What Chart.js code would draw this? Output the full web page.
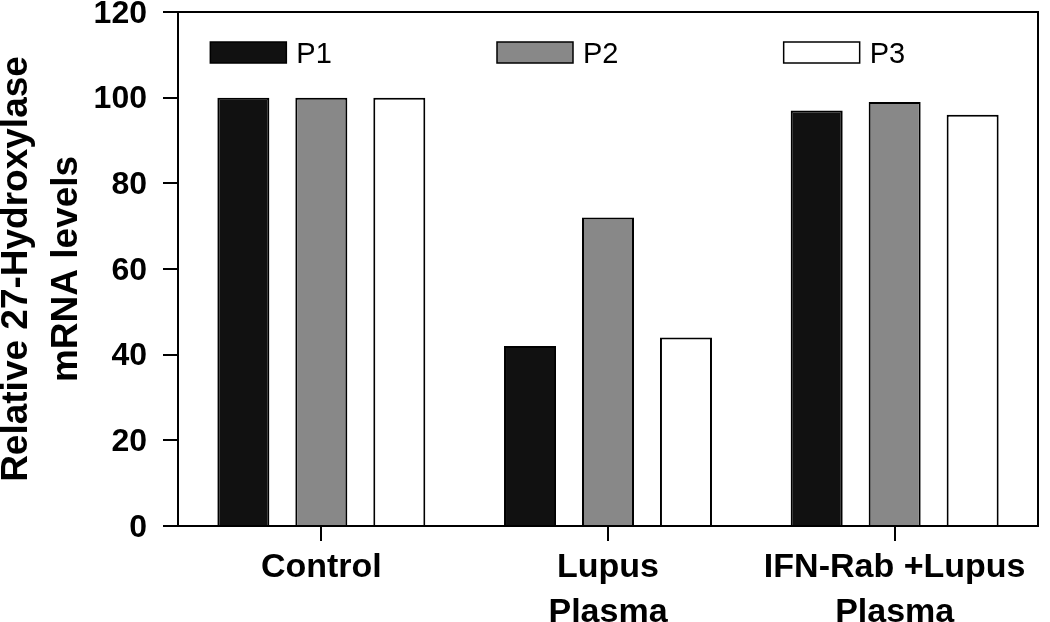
<!DOCTYPE html>
<html>
<head>
<meta charset="utf-8">
<script src="https://cdn.jsdelivr.net/npm/chart.js@4/dist/chart.umd.min.js"></script>
<style>
  html, body { margin: 0; padding: 0; background: #fff; }
  #wrap { width: 1050px; height: 622px; }
</style>
</head>
<body>
<div id="wrap"><canvas id="c" width="1050" height="622"></canvas></div>
<script>
const categories = [['Control'], ['Lupus', 'Plasma'], ['IFN-Rab +Lupus', 'Plasma']];
const seriesNames = ['P1', 'P2', 'P3'];
const p1 = [100, 42, 97];
const p2 = [100, 72, 99];
const p3 = [100, 44, 96];
const yTicks = [0, 20, 40, 60, 80, 100, 120];
const yTitle = ['Relative 27-Hydroxylase', 'mRNA levels'];

const fills = ['#111111', '#888888', '#ffffff'];
const FONT = '"Liberation Sans", Arial, Helvetica, sans-serif';

const framePlugin = {
  id: 'frame',
  afterDatasetsDraw(chart) {
    const { ctx, chartArea: a } = chart;
    ctx.save();
    ctx.strokeStyle = '#000';
    ctx.lineWidth = 2;
    ctx.beginPath();
    ctx.moveTo(a.left, a.top);
    ctx.lineTo(a.right, a.top);
    ctx.lineTo(a.right, a.bottom);
    ctx.stroke();
    ctx.restore();
  }
};

const legendPlugin = {
  id: 'customLegend',
  afterDatasetsDraw(chart) {
    const { ctx } = chart;
    const xs = chart.scales.x;
    ctx.save();
    chart.data.datasets.forEach((ds, i) => {
      const x0 = xs.getPixelForValue(i) - 111;
      const y0 = 42;
      ctx.fillStyle = ds.backgroundColor;
      ctx.fillRect(x0, y0, 76, 21);
      ctx.strokeStyle = '#000';
      ctx.lineWidth = 1.5;
      ctx.strokeRect(x0, y0, 76, 21);
      ctx.fillStyle = '#000';
      ctx.font = '29px ' + FONT;
      ctx.textBaseline = 'middle';
      ctx.textAlign = 'left';
      ctx.fillText(ds.label, x0 + 86, y0 + 13);
    });
    ctx.restore();
  }
};

const seriesData = [p1, p2, p3];
new Chart(document.getElementById('c'), {
  type: 'bar',
  data: {
    labels: categories,
    datasets: seriesNames.map((name, i) => ({
      label: name,
      data: seriesData[i],
      backgroundColor: fills[i],
      borderColor: '#000',
      borderWidth: 2,
      categoryPercentage: 0.816,
      barPercentage: 0.667
    }))
  },
  options: {
    responsive: false,
    devicePixelRatio: 1,
    animation: false,
    layout: { padding: { left: 0, right: 12, top: 0, bottom: 0 } },
    plugins: { legend: { display: false }, tooltip: { enabled: false } },
    scales: {
      x: {
        offset: true,
        afterFit(s) { s.height = 96; },
        border: { color: '#000', width: 2 },
        grid: { offset: false, drawOnChartArea: false, drawTicks: true, tickLength: 15, color: '#000', lineWidth: 2 },
        ticks: {
          color: '#000',
          padding: 4,
          maxRotation: 0,
          autoSkip: false,
          font: { family: FONT, size: 34, weight: 'bold', lineHeight: 1.32 }
        }
      },
      y: {
        min: 0,
        max: 120,
        afterFit(s) { s.width = 178; s.paddingTop = 12; },
        afterBuildTicks(s) { s.ticks = yTicks.map(v => ({ value: v })); },
        border: { color: '#000', width: 2 },
        grid: { drawOnChartArea: false, drawTicks: true, tickLength: 15, color: '#000', lineWidth: 2 },
        ticks: {
          color: '#000',
          padding: 16,
          labelOffset: 2,
          font: { family: FONT, size: 32, weight: 'bold', lineHeight: 0.7 }
        },
        title: {
          display: true,
          text: yTitle,
          color: '#000',
          padding: { top: -8, bottom: 0 },
          font: { family: FONT, size: 37, weight: 'bold', lineHeight: 1.35 }
        }
      }
    }
  },
  plugins: [framePlugin, legendPlugin]
});
</script>
</body>
</html>
